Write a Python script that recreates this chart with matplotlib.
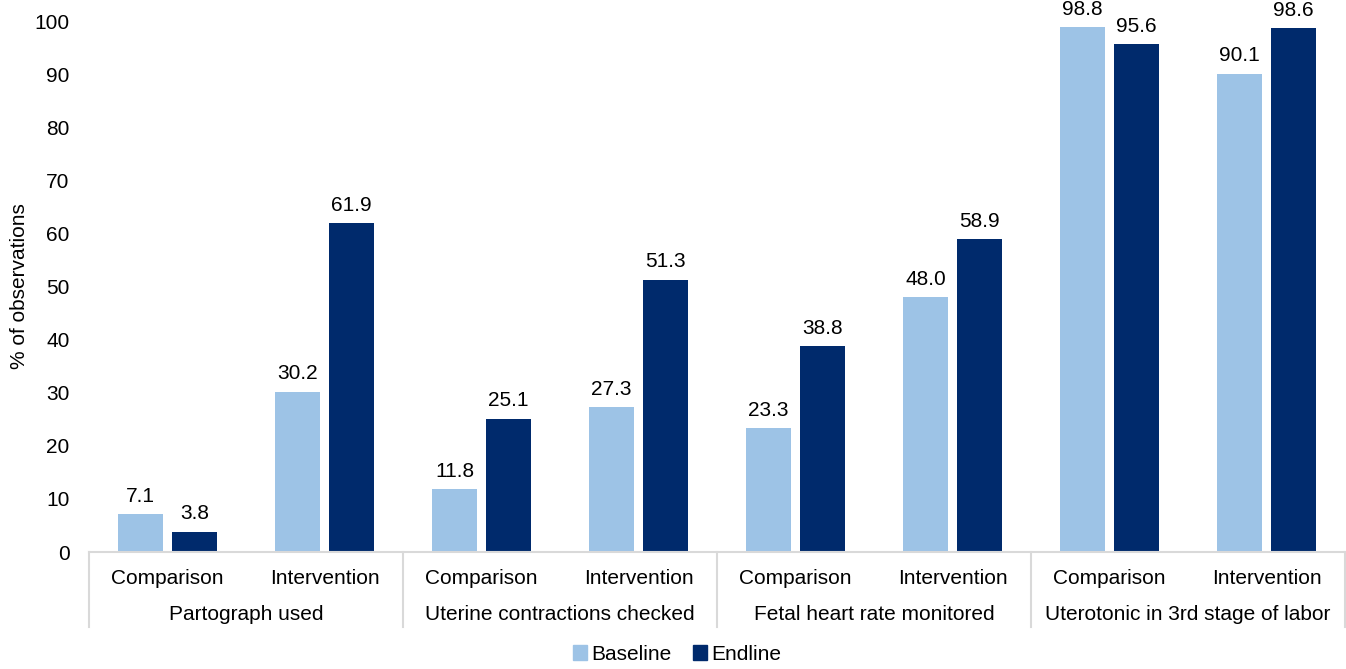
import numpy as np
import matplotlib
matplotlib.use("Agg")
import matplotlib.pyplot as plt
import matplotlib.transforms as mtransforms
from matplotlib.patches import Patch

plt.rcParams['font.family'] = ['Liberation Sans', 'DejaVu Sans']

groups = ['Partograph used', 'Uterine contractions checked',
          'Fetal heart rate monitored', 'Uterotonic in 3rd stage of labor']
subgroups = ['Comparison', 'Intervention']
baseline = [7.1, 30.2, 11.8, 27.3, 23.3, 48.0, 98.8, 90.1]
endline = [3.8, 61.9, 25.1, 51.3, 38.8, 58.9, 95.6, 98.6]

light = '#9DC3E6'
dark = '#002A6C'
grey = '#D9D9D9'
fs = 15

fig = plt.figure(figsize=(13.46, 6.69), dpi=100)
ax = fig.add_axes([89 / 1346, 117 / 669, 1256 / 1346, 531 / 669])

x = np.arange(len(baseline))
w = 0.287
off = 0.172
b1 = ax.bar(x - off, baseline, w, color=light, label='Baseline')
b2 = ax.bar(x + off, endline, w, color=dark, label='Endline')

for bars, vals in ((b1, baseline), (b2, endline)):
    for rect, v in zip(bars, vals):
        ax.annotate(f'{v:.1f}', (rect.get_x() + rect.get_width() / 2, v),
                    xytext=(0, 6), textcoords='offset points',
                    ha='center', va='bottom', fontsize=fs, clip_on=False)

ax.set_xlim(-0.5, len(baseline) - 0.5)
ax.set_ylim(0, 100)
ax.set_yticks(np.arange(0, 101, 10))
ax.tick_params(axis='y', length=0, pad=14, labelsize=fs)
ax.set_xticks(x)
ax.set_xticklabels(subgroups * len(groups), fontsize=fs)
ax.tick_params(axis='x', length=0, pad=12)

for s in ['top', 'right', 'left']:
    ax.spines[s].set_visible(False)
ax.spines['bottom'].set_color(grey)
ax.spines['bottom'].set_linewidth(1.5)

ax.set_ylabel('% of observations', fontsize=fs, labelpad=4)

trans = mtransforms.blended_transform_factory(ax.transData, ax.transAxes)
depth = -75 / 531
for i in range(len(groups) + 1):
    xs = -0.5 + 2 * i
    ax.plot([xs, xs], [0, depth], color=grey, lw=1.5, transform=trans, clip_on=False)
for i, g in enumerate(groups):
    ax.text(2 * i + 0.5, -62 / 531, g, transform=trans, ha='center', va='center', fontsize=fs)

handles = [Patch(color=light), Patch(color=dark)]
fig.legend(handles, ['Baseline', 'Endline'], loc='center', bbox_to_anchor=(0.503, 0.022),
           ncol=2, frameon=False, fontsize=fs, handlelength=0.7, handleheight=0.7,
           handletextpad=0.2, columnspacing=1.0)

fig.savefig('out.png', dpi=100)
